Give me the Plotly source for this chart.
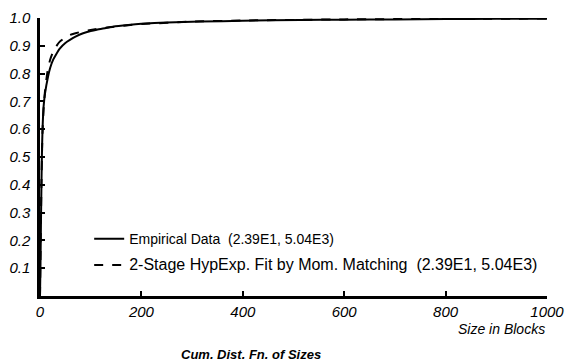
import plotly.graph_objects as go

# Empirical cumulative distribution
emp_x = [0, 1, 2, 3, 4, 5, 7, 10, 16, 20, 26, 32, 39, 50, 59, 70, 85, 100, 112, 130,
         144, 174, 200, 250, 316, 400, 513, 600, 700, 800, 900, 1000]
emp_y = [0, 0.12, 0.28, 0.42, 0.53, 0.60, 0.68, 0.73, 0.79, 0.82, 0.85, 0.87, 0.89, 0.91,
         0.921, 0.933, 0.945, 0.953, 0.958, 0.964, 0.969, 0.975, 0.979, 0.984, 0.987,
         0.990, 0.993, 0.994, 0.995, 0.996, 0.997, 0.997]

# 2-stage hyperexponential fit
fit_x = [0, 1, 2, 3, 4, 5, 7, 10, 15, 20, 26, 32, 39, 50, 59, 70, 85, 100, 130, 174,
         200, 300, 400, 600, 800, 1000]
fit_y = [0, 0.15, 0.30, 0.42, 0.52, 0.59, 0.67, 0.74, 0.81, 0.85, 0.879, 0.898, 0.915,
         0.930, 0.939, 0.945, 0.952, 0.957, 0.965, 0.974, 0.978, 0.987, 0.991, 0.995,
         0.997, 0.998]

emp_name = "Empirical Data  (2.39E1, 5.04E3)"
fit_name = "2-Stage HypExp. Fit by Mom. Matching  (2.39E1, 5.04E3)"

x_ticks = [0, 200, 400, 600, 800, 1000]
y_ticks = [0.1, 0.2, 0.3, 0.4, 0.5, 0.6, 0.7, 0.8, 0.9, 1.0]
y_tick_text = ["0.1", "0.2", "0.3", "0.4", "0.5", "0.6", "0.7", "0.8", "0.9", "1.0"]

FONT = "Liberation Sans, Arial, sans-serif"

fig = go.Figure()
fig.add_trace(go.Scatter(x=emp_x, y=emp_y, mode="lines", name=emp_name,
                         legendgroup="a",
                         line=dict(color="black", width=2, shape="spline", smoothing=0.6)))
fig.add_trace(go.Scatter(x=fit_x, y=fit_y, mode="lines",
                         name='<span style="font-size:16px">' + fit_name + '</span>',
                         legendgroup="b",
                         line=dict(color="black", width=2, dash="dash", shape="spline", smoothing=0.6)))

fig.update_layout(
    width=569, height=364,
    margin=dict(l=40, r=22, t=18, b=68),
    paper_bgcolor="white", plot_bgcolor="white",
    font=dict(family=FONT, color="black"),
    showlegend=True,
    legend=dict(x=0.097, y=0.158, xanchor="left", yanchor="middle",
                bgcolor="rgba(0,0,0,0)", font=dict(size=14, family=FONT),
                tracegroupgap=5, traceorder="grouped"),
    xaxis=dict(range=[0, 1000], tickvals=x_ticks, ticktext=[str(v) for v in x_ticks],
               ticks="inside", ticklen=5, tickwidth=2, tickcolor="black",
               showline=True, linecolor="black", linewidth=2.5,
               showgrid=False, zeroline=False, automargin=False,
               tickfont=dict(size=15, style="italic", family=FONT)),
    yaxis=dict(range=[0, 1.0], tickvals=y_ticks, ticktext=y_tick_text,
               ticks="inside", ticklen=5, tickwidth=2, tickcolor="black",
               showline=True, linecolor="black", linewidth=2.5,
               showgrid=False, zeroline=False, ticklabelstandoff=4, automargin=False,
               tickfont=dict(size=15, style="italic", family=FONT)),
    annotations=[
        dict(text="Size in Blocks", xref="paper", yref="paper", x=1.0, y=-0.12,
             xanchor="right", yanchor="middle", showarrow=False,
             font=dict(size=14, style="italic", family=FONT)),
        dict(text="<b>Cum. Dist. Fn. of Sizes</b>", xref="paper", yref="paper",
             x=0.416, y=-0.212, xanchor="center", yanchor="middle", showarrow=False,
             font=dict(size=13, style="italic", family=FONT)),
    ],
)

fig.write_html("out.html")
